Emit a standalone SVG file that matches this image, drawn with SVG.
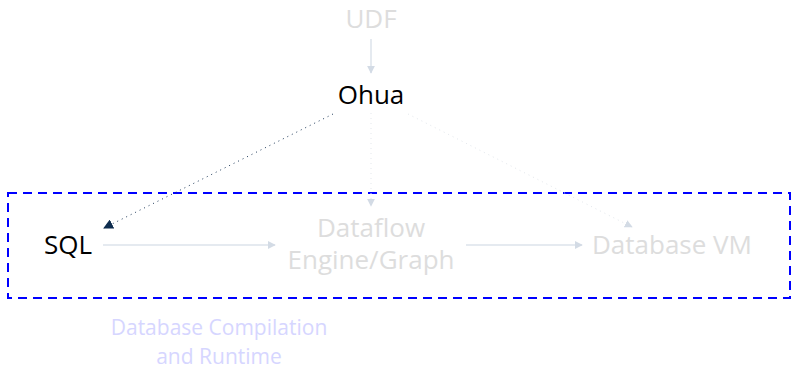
<svg xmlns="http://www.w3.org/2000/svg" width="794" height="371" viewBox="0 0 794 371">
  <style>
    text { font-family: "Open Sans", "Noto Sans", "Liberation Sans", sans-serif; text-anchor: middle; }
    .lbl { font-size: 26px; }
    .dark { fill: #000000; }
    .faint { fill: #dddddd; }
    .cap { font-size: 21px; fill: #d6d6ff; }
    .edge { fill: none; stroke: #dce3eb; stroke-width: 1.5; }
    .dot { fill: none; stroke: #e3e7ec; stroke-width: 1; stroke-dasharray: 1 4; }
    .dotdark { fill: none; stroke: #1f3a5a; stroke-width: 1; stroke-dasharray: 1 4; }
  </style>
  <defs>
    <marker id="ah" viewBox="0 0 10 10" refX="9" refY="5" markerWidth="8" markerHeight="8" markerUnits="userSpaceOnUse" orient="auto">
      <path d="M0,0 L10,5 L0,10 z" fill="#d3dbe5"/>
    </marker>
    <marker id="ahDark" viewBox="0 0 10 10" refX="9" refY="5" markerWidth="10" markerHeight="10" markerUnits="userSpaceOnUse" orient="auto">
      <path d="M0,0 L10,5 L0,10 z" fill="#0f2d4f"/>
    </marker>
  </defs>

  <!-- cluster frame -->
  <g id="cluster">
    <rect x="8" y="193" width="782" height="105" fill="none" stroke="#0000ff" stroke-width="2" stroke-dasharray="9 6"/>
    <text class="cap" x="219" y="335">Database Compilation</text>
    <text class="cap" x="219" y="364">and Runtime</text>
  </g>

  <!-- connectors -->
  <g id="edges">
    <line class="edge" x1="371" y1="39" x2="371" y2="73" marker-end="url(#ah)"/>
    <line class="dotdark" x1="333" y1="114" x2="104" y2="228" marker-end="url(#ahDark)"/>
    <line class="dot" x1="371" y1="113" x2="371" y2="206" marker-end="url(#ah)"/>
    <line class="dot" x1="408" y1="114" x2="632" y2="227" marker-end="url(#ah)"/>
    <line class="edge" x1="103" y1="245" x2="275" y2="245" marker-end="url(#ah)"/>
    <line class="edge" x1="466" y1="245" x2="582" y2="245" marker-end="url(#ah)"/>
  </g>

  <!-- nodes -->
  <g id="udf"><text class="lbl faint" x="371" y="28">UDF</text></g>
  <g id="ohua"><text class="lbl dark" x="371" y="104">Ohua</text></g>
  <g id="sql"><text class="lbl dark" x="68" y="254">SQL</text></g>
  <g id="dataflow">
    <text class="lbl faint" x="371" y="237">Dataflow</text>
    <text class="lbl faint" x="371" y="269">Engine/Graph</text>
  </g>
  <g id="dbvm"><text class="lbl faint" x="672" y="254">Database VM</text></g>
</svg>
